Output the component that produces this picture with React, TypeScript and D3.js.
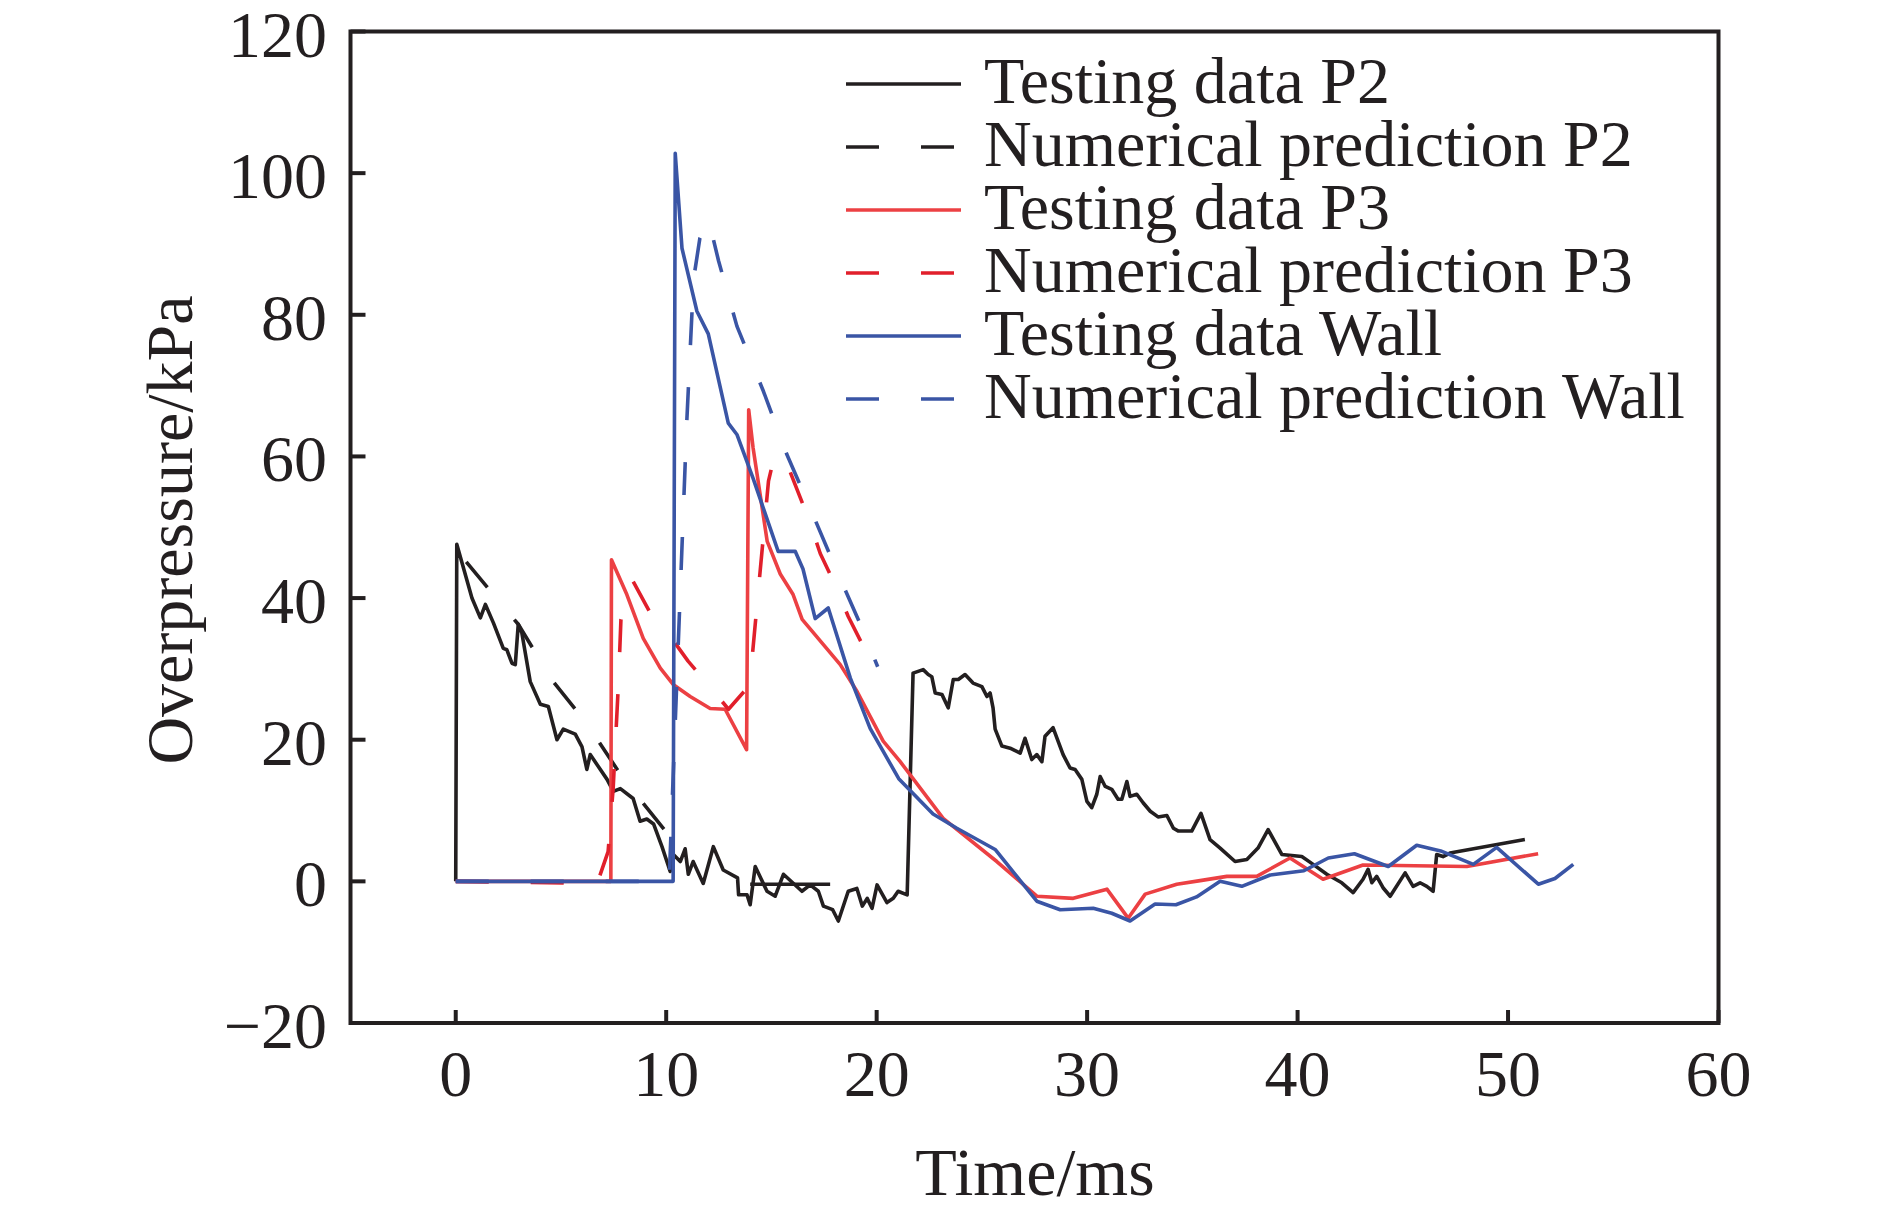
import React from "react";
import * as d3 from "d3";

// time (ms), overpressure (kPa) pairs
const testP2: [number, number][] = [
  [0, 0], [0.05, 47.6], [0.77, 40.0], [1.17, 37.2], [1.41, 39.1], [1.79, 36.5],
  [2.26, 32.9], [2.43, 32.7], [2.67, 30.8], [2.83, 30.6], [2.97, 36.3], [3.14, 35.1],
  [3.54, 28.2], [4.02, 25.0], [4.4, 24.7], [4.81, 20.0], [5.11, 21.5], [5.68, 20.8],
  [6.0, 19.0], [6.23, 15.8], [6.39, 17.9], [6.71, 16.5], [7.19, 14.4], [7.49, 12.7],
  [7.82, 13.1], [8.43, 11.7], [8.76, 8.5], [9.08, 8.8], [9.4, 8.1], [9.8, 4.9],
  [10.19, 1.4], [10.34, 3.8], [10.67, 2.8], [10.9, 4.6], [11.05, 1.0], [11.28, 2.8],
  [11.76, -0.3], [12.24, 4.9], [12.71, 1.6], [13.39, 0.5], [13.44, -1.9], [13.84, -1.9],
  [13.99, -3.3], [14.23, 2.1], [14.79, -1.4], [15.18, -2.1], [15.57, 1.0], [16.05, -0.3],
  [16.45, -1.4], [16.84, -0.5], [17.23, -1.4], [17.47, -3.5], [17.91, -4.0], [18.18, -5.6],
  [18.65, -1.4], [19.06, -1.0], [19.32, -3.5], [19.55, -2.4], [19.78, -3.8], [20.02, -0.5],
  [20.49, -3.0], [20.79, -2.4], [21.02, -1.4], [21.45, -1.9], [21.73, 29.4], [22.21, 29.9],
  [22.45, 29.2], [22.62, 28.9], [22.78, 26.6], [23.1, 26.4], [23.4, 24.5], [23.64, 28.5],
  [23.88, 28.5], [24.2, 29.2], [24.58, 28.0], [25.0, 27.5], [25.24, 26.1], [25.39, 26.6],
  [25.53, 24.5], [25.63, 21.5], [25.95, 19.1], [26.34, 18.8], [26.82, 18.1], [27.05, 20.2],
  [27.37, 17.2], [27.61, 17.9], [27.85, 16.9], [28.0, 20.5], [28.38, 21.7], [28.86, 17.9],
  [29.19, 16.0], [29.43, 15.8], [29.75, 14.4], [29.99, 11.3], [30.22, 10.4], [30.46, 12.3],
  [30.62, 14.8], [30.86, 13.4], [31.17, 13.0], [31.47, 11.6], [31.65, 11.6], [31.89, 14.1],
  [32.04, 12.0], [32.36, 12.3], [32.66, 11.1], [33.0, 9.9], [33.37, 9.1], [33.79, 9.3],
  [34.1, 7.5], [34.34, 7.1], [34.97, 7.1], [35.41, 9.6], [35.84, 5.9], [36.32, 4.7],
  [37.03, 2.8], [37.59, 3.1], [38.12, 4.7], [38.6, 7.3], [39.25, 3.8], [40.2, 3.5],
  [40.74, 2.4], [41.39, 1.0], [42.1, -0.2], [42.64, -1.6], [43.11, 0.3], [43.35, 1.7],
  [43.53, -0.2], [43.76, 0.7], [44.06, -0.9], [44.4, -2.1], [45.11, 1.2], [45.49, -0.7],
  [45.82, -0.2], [46.14, -0.7], [46.44, -1.4], [46.61, 3.8], [46.91, 3.5], [47.24, 4.0],
  [50.8, 5.9],
];
const testP2Flat: [number, number][] = [[13.99, -0.4], [17.79, -0.4]];
const numP2: [number, number][] = [
  [0.5, 45.1], [2.97, 36.3], [4.63, 28.2], [6.25, 22.2], [7.96, 14.5], [10.1, 6.6],
];
const testP3: [number, number][] = [
  [0, 0], [7.37, 0], [7.4, 45.4], [8.13, 40.5], [8.91, 34.3], [9.72, 30.1], [10.33, 27.8],
  [11.14, 26.1], [12.09, 24.4], [12.8, 24.3], [13.82, 18.6], [13.92, 66.6], [14.13, 61.2],
  [14.8, 48.0], [15.42, 43.4], [16.03, 40.5], [16.46, 37.0], [18.27, 30.6], [19.07, 26.8],
  [20.31, 19.8], [21.12, 16.9], [23.16, 8.9], [25.71, 2.8], [27.61, -2.1], [29.34, -2.4],
  [30.94, -1.1], [31.95, -5.2], [32.76, -1.8], [34.26, -0.4], [35.37, 0.1], [36.64, 0.7],
  [38.06, 0.7], [39.64, 3.3], [41.21, 0.3], [43.11, 2.3], [48.04, 2.1], [51.43, 3.9],
];
const numP3: [number, number][] = [
  [0, 0], [6.72, -0.3], [7.24, 4.2], [7.48, 13.1], [7.74, 28.5], [7.85, 37], [8.4, 42.5],
  [9.24, 37.9], [10.19, 34.6], [11.04, 31.1], [11.99, 27.8], [12.96, 24.3], [13.91, 27.5],
  [14.05, 30.5], [14.86, 56.5], [15.15, 60.2], [15.6, 60.0], [16.75, 51.3], [17.32, 46.3],
  [17.94, 42.4], [18.65, 37.4], [19.31, 33.5],
];
const testWall: [number, number][] = [
  [0, 0], [10.33, 0], [10.43, 102.8], [10.75, 89.4], [11.46, 80.5], [12.0, 77.3],
  [12.95, 64.7], [13.36, 63.1], [14.13, 56.9], [15.32, 46.6], [16.13, 46.6], [16.5, 44.1],
  [17.08, 37.1], [17.7, 38.6], [18.75, 28.7], [19.69, 21.6], [21.05, 14.5], [22.68, 9.5],
  [23.81, 7.5], [25.63, 4.5], [27.61, -2.8], [28.72, -4.0], [30.29, -3.8], [31.17, -4.5],
  [32.04, -5.6], [33.23, -3.2], [34.22, -3.3], [35.2, -2.2], [36.32, 0], [37.35, -0.7],
  [38.7, 0.9], [40.3, 1.5], [41.46, 3.3], [42.7, 3.9], [44.31, 2.1], [45.66, 5.1],
  [46.8, 4.3], [48.35, 2.4], [49.46, 4.8], [51.44, -0.4], [52.23, 0.4], [53.1, 2.4],
];
const numWall: [number, number][] = [
  [0, 0], [10.14, 0], [10.98, 65], [11.3, 85], [11.6, 90.8], [12.01, 93.5], [12.49, 87.6],
  [13.36, 78.4], [14.62, 69.2], [15.73, 60.3], [16.84, 52.7], [18.11, 43.8], [19.3, 35.8],
  [20.05, 30.3],
];

const xTicks = [0, 10, 20, 30, 40, 50, 60];
const yTicks = [-20, 0, 20, 40, 60, 80, 100, 120];
const legendLabels = [
  "Testing data P2",
  "Numerical prediction P2",
  "Testing data P3",
  "Numerical prediction P3",
  "Testing data Wall",
  "Numerical prediction Wall",
];

const BLACK = "#231f20";
const RED = "#ec4043";
const RED_D = "#e11f2b";
const BLUE = "#3a55a5";
const DASH = "33,42";
const FONT = "'Liberation Serif', 'Times New Roman', serif";

export default function App() {
  const x = d3.scaleLinear().domain([-5, 60]).range([350.5, 1718.5]);
  const y = d3.scaleLinear().domain([-20, 120]).range([1023, 31.5]);
  const line = d3
    .line<[number, number]>()
    .x((d) => x(d[0]))
    .y((d) => y(d[1]));

  const series = [
    { data: testP2, color: BLACK, dash: "" },
    { data: testP2Flat, color: BLACK, dash: "" },
    { data: numP2, color: BLACK, dash: DASH },
    { data: testP3, color: RED, dash: "" },
    { data: numP3, color: RED_D, dash: DASH },
    { data: testWall, color: BLUE, dash: "" },
    { data: numWall, color: BLUE, dash: DASH },
  ];
  const legendStyle = [
    { color: BLACK, dash: "" },
    { color: BLACK, dash: DASH },
    { color: RED, dash: "" },
    { color: RED_D, dash: DASH },
    { color: BLUE, dash: "" },
    { color: BLUE, dash: DASH },
  ];

  const [x0, x1] = x.range();
  const [yb, yt] = y.range();

  return (
    <svg
      width={1890}
      height={1215}
      style={{ position: "absolute", left: 0, top: 0, background: "#fff" }}
      fontFamily={FONT}
    >
      {/* data lines */}
      {series.map((s, i) => (
        <path
          key={i}
          d={line(s.data) || ""}
          fill="none"
          stroke={s.color}
          strokeWidth={3.6}
          strokeDasharray={s.dash || undefined}
          strokeLinejoin="round"
        />
      ))}

      {/* frame */}
      <rect
        x={x0}
        y={yt}
        width={x1 - x0}
        height={yb - yt}
        fill="none"
        stroke={BLACK}
        strokeWidth={4}
      />

      {/* y ticks */}
      {yTicks.map((t) => (
        <g key={"y" + t}>
          <line x1={x0} x2={x0 + 15} y1={y(t)} y2={y(t)} stroke={BLACK} strokeWidth={4} />
          <text x={327} y={y(t) + 25} fontSize={66} textAnchor="end" fill={BLACK}>
            {t < 0 ? "\u2212" + Math.abs(t) : t}
          </text>
        </g>
      ))}

      {/* x ticks */}
      {xTicks.map((t) => (
        <g key={"x" + t}>
          <line x1={x(t)} x2={x(t)} y1={yb} y2={yb - 13} stroke={BLACK} strokeWidth={4} />
          <text x={x(t)} y={1096} fontSize={66} textAnchor="middle" fill={BLACK}>
            {t}
          </text>
        </g>
      ))}

      {/* axis titles */}
      <text x={1035} y={1195} fontSize={68} textAnchor="middle" fill={BLACK}>
        Time/ms
      </text>
      <text
        transform="translate(192,530) rotate(-90)"
        fontSize={66}
        textAnchor="middle"
        fill={BLACK}
      >
        Overpressure/kPa
      </text>

      {/* legend */}
      {legendLabels.map((lab, i) => {
        const ly = 84 + i * 63;
        return (
          <g key={lab}>
            <line
              x1={846}
              x2={961}
              y1={ly}
              y2={ly}
              stroke={legendStyle[i].color}
              strokeWidth={3.6}
              strokeDasharray={legendStyle[i].dash || undefined}
            />
            <text x={984} y={ly + 19} fontSize={66} fill={BLACK}>
              {lab}
            </text>
          </g>
        );
      })}
    </svg>
  );
}
